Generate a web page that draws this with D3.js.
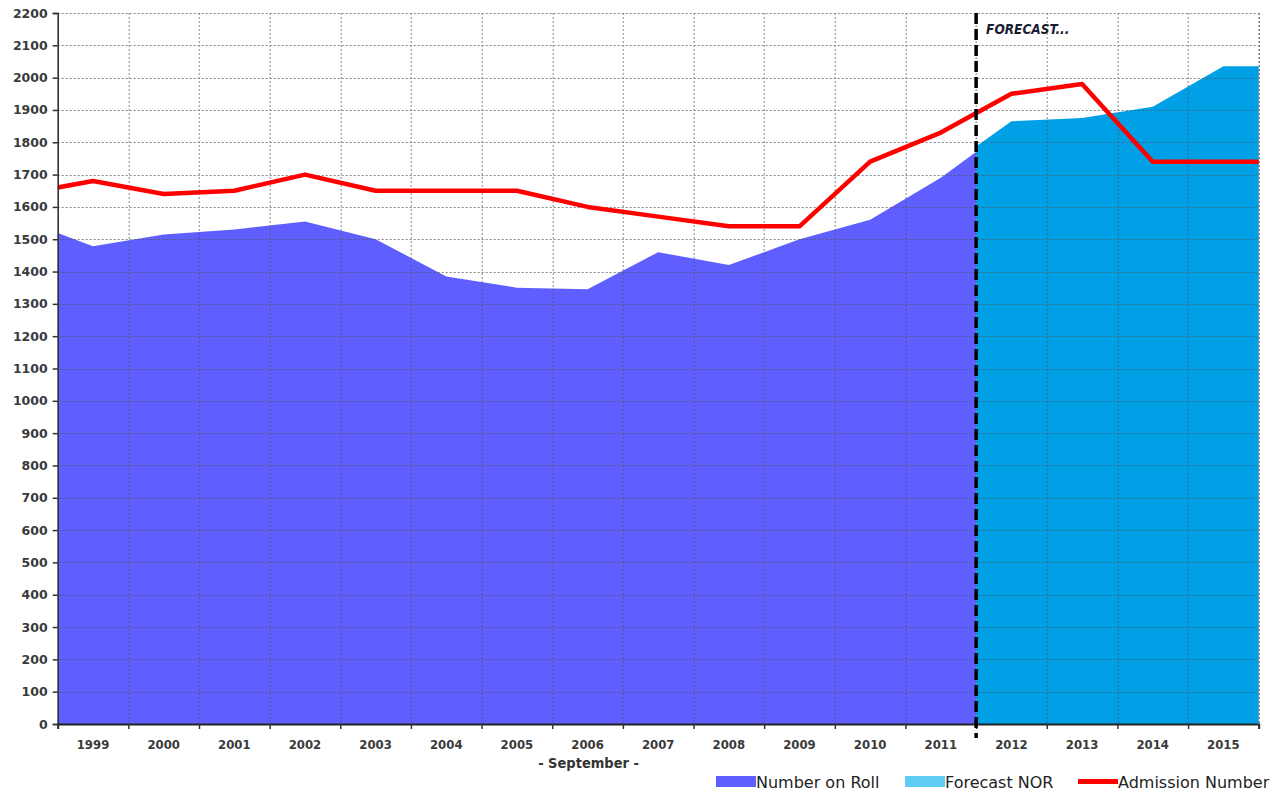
<!DOCTYPE html>
<html>
<head>
<meta charset="utf-8">
<script src="https://cdn.jsdelivr.net/npm/d3@7"></script>
<style>
  body { margin: 0; background: #fff; }
  svg { display: block; }
</style>
</head>
<body>
<svg id="chart" width="1275" height="791"></svg>
<script>
//------------------------------------------------------------------------------
//Data
//------------------------------------------------------------------------------
// visible categories on the axis
var years = [1999, 2000, 2001, 2002, 2003, 2004, 2005, 2006, 2007, 2008, 2009, 2010, 2011, 2012, 2013, 2014, 2015];
var yTicks = d3.range(0, 2201, 100);

// Number on Roll, 1998..2012 (1998 / 2012 only show as the clipped edges)
var norYears  = [1998, 1999, 2000, 2001, 2002, 2003, 2004, 2005, 2006, 2007, 2008, 2009, 2010, 2011, 2012];
var norValues = [1560, 1478, 1515, 1530, 1555, 1500, 1385, 1350, 1345, 1460, 1420, 1500, 1560, 1690, 1850];

// Forecast NOR, 2011..2016 (2011 / 2016 only show as the clipped edges)
var forecastYears  = [2011, 2012, 2013, 2014, 2015, 2016];
var forecastValues = [1710, 1865, 1875, 1910, 2035, 2035];

// Admission Number, 1998..2016
var admYears  = [1998, 1999, 2000, 2001, 2002, 2003, 2004, 2005, 2006, 2007, 2008, 2009, 2010, 2011, 2012, 2013, 2014, 2015, 2016];
var admValues = [1640, 1680, 1640, 1650, 1700, 1650, 1650, 1650, 1600, 1570, 1540, 1540, 1740, 1830, 1950, 1980, 1740, 1740, 1740];

var forecastStart = 2011.5;

//------------------------------------------------------------------------------
//Chart
//------------------------------------------------------------------------------
var svg = d3.select("#chart");
var margin = { left: 57.7, right: 16.3, top: 13, bottom: 67 };
var width = 1275, height = 791;
var plotW = width - margin.left - margin.right;
var plotH = height - margin.top - margin.bottom;

var x = d3.scaleLinear().domain([1998.5, 2015.5]).range([0, plotW]);
var y = d3.scaleLinear().domain([0, 2200]).range([plotH, 0]);

var g = svg.append("g").attr("transform", "translate(" + margin.left + "," + margin.top + ")");

var defs = svg.append("defs");
defs.append("clipPath").attr("id", "clipPast")
  .append("rect").attr("x", 0).attr("y", -5).attr("width", x(forecastStart)).attr("height", plotH + 5);
defs.append("clipPath").attr("id", "clipFuture")
  .append("rect").attr("x", x(forecastStart)).attr("y", -5).attr("width", plotW - x(forecastStart)).attr("height", plotH + 5);
defs.append("clipPath").attr("id", "clipAll")
  .append("rect").attr("x", 0).attr("y", -10).attr("width", plotW).attr("height", plotH + 10);

function zipped(xs, vs) {
  return xs.map(function (d, i) { return { year: d, value: vs[i] }; });
}

var area = d3.area()
  .x(function (d) { return x(d.year); })
  .y0(y(0))
  .y1(function (d) { return y(d.value); });

// areas
g.append("path")
  .datum(zipped(norYears, norValues))
  .attr("clip-path", "url(#clipPast)")
  .attr("fill", "#5f5fff")
  .attr("d", area);

g.append("path")
  .datum(zipped(forecastYears, forecastValues))
  .attr("clip-path", "url(#clipFuture)")
  .attr("fill", "#00a0e6")
  .attr("d", area);

// gridlines (drawn over the areas, like the original)
var grid = g.append("g").attr("stroke", "#555").attr("stroke-width", 1)
  .attr("stroke-dasharray", "2,2").attr("opacity", 0.7);
grid.selectAll(".hg")
  .data(yTicks.filter(function (d) { return d > 0; }))
  .enter().append("line")
  .attr("x1", 0).attr("x2", plotW)
  .attr("y1", function (d) { return Math.round(y(d)) + 0.5; })
  .attr("y2", function (d) { return Math.round(y(d)) + 0.5; });
var bounds = d3.range(1999.5, 2015.6, 1);
grid.selectAll(".vg")
  .data(bounds)
  .enter().append("line")
  .attr("y1", 0).attr("y2", plotH)
  .attr("x1", function (d) { return Math.round(x(d)) + 0.5; })
  .attr("x2", function (d) { return Math.round(x(d)) + 0.5; });

// admission line
var line = d3.line()
  .x(function (d) { return x(d.year); })
  .y(function (d) { return y(d.value); });

g.append("path")
  .datum(zipped(admYears, admValues))
  .attr("clip-path", "url(#clipAll)")
  .attr("fill", "none")
  .attr("stroke", "#ff0000")
  .attr("stroke-width", 4.5)
  .attr("stroke-linejoin", "round")
  .attr("d", line);

// axes
var yAxis = d3.axisLeft(y).tickValues(yTicks).tickSize(5).tickPadding(5).tickFormat(d3.format("d"));
var yG = g.append("g").call(yAxis);
yG.select(".domain").attr("stroke", "#333").attr("stroke-width", 1.6);
yG.selectAll(".tick line").attr("stroke", "#333").attr("stroke-width", 1.5);
yG.selectAll("text")
  .attr("font-family", "'DejaVu Sans', sans-serif")
  .attr("font-size", 12.5)
  .attr("font-weight", "bold")
  .attr("fill", "#3a3a3a");

var xAxis = d3.axisBottom(x).tickValues(d3.range(1998.5, 2015.6, 1)).tickSize(5).tickFormat("");
var xG = g.append("g").attr("transform", "translate(0," + plotH + ")").call(xAxis);
xG.select(".domain").attr("stroke", "#222").attr("stroke-width", 2);
xG.selectAll(".tick line").attr("stroke", "#333").attr("stroke-width", 1.5);

g.append("g").selectAll("text")
  .data(years)
  .enter().append("text")
  .attr("x", function (d) { return x(d); })
  .attr("y", plotH + 25)
  .attr("text-anchor", "middle")
  .attr("font-family", "'DejaVu Sans Condensed', sans-serif")
  .attr("font-size", 13)
  .attr("font-weight", "bold")
  .attr("fill", "#3a3a3a")
  .text(function (d) { return d; });

g.append("text")
  .attr("x", x(2006) + 1)
  .attr("y", plotH + 44)
  .attr("text-anchor", "middle")
  .attr("font-family", "'DejaVu Sans Condensed', sans-serif")
  .attr("font-size", 14.5)
  .attr("font-weight", "bold")
  .attr("fill", "#333")
  .text("- September -");

// right border
g.append("line")
  .attr("x1", plotW + 0.5).attr("x2", plotW + 0.5).attr("y1", 0).attr("y2", plotH)
  .attr("stroke", "#555").attr("stroke-dasharray", "2,2").attr("opacity", 0.7);

// forecast marker
g.append("line")
  .attr("x1", x(forecastStart)).attr("x2", x(forecastStart))
  .attr("y1", 0).attr("y2", plotH + 14)
  .attr("stroke", "#000")
  .attr("stroke-width", 3.5)
  .attr("stroke-dasharray", "11,5");

g.append("text")
  .attr("x", x(forecastStart) + 10)
  .attr("y", 21)
  .attr("font-family", "'DejaVu Sans Condensed', sans-serif")
  .attr("font-size", 13.5)
  .attr("font-weight", "bold")
  .attr("font-style", "italic")
  .attr("fill", "#1c1c30")
  .text("FORECAST...");

// legend
var legendItems = [
  { name: "Number on Roll", color: "#5f5fff", type: "rect", x: 716 },
  { name: "Forecast NOR", color: "#5fcdf3", type: "rect", x: 905 },
  { name: "Admission Number", color: "#ff0000", type: "line", x: 1078 }
];
var legend = svg.append("g");
legendItems.forEach(function (d) {
  if (d.type === "rect") {
    legend.append("rect").attr("x", d.x).attr("y", 776).attr("width", 40).attr("height", 11).attr("fill", d.color);
  } else {
    legend.append("rect").attr("x", d.x).attr("y", 779).attr("width", 40).attr("height", 5).attr("fill", d.color);
  }
  legend.append("text")
    .attr("x", d.x + 40)
    .attr("y", 788)
    .attr("font-family", "'DejaVu Sans', sans-serif")
    .attr("font-size", 16)
    .attr("fill", "#222")
    .text(d.name);
});
</script>
</body>
</html>
